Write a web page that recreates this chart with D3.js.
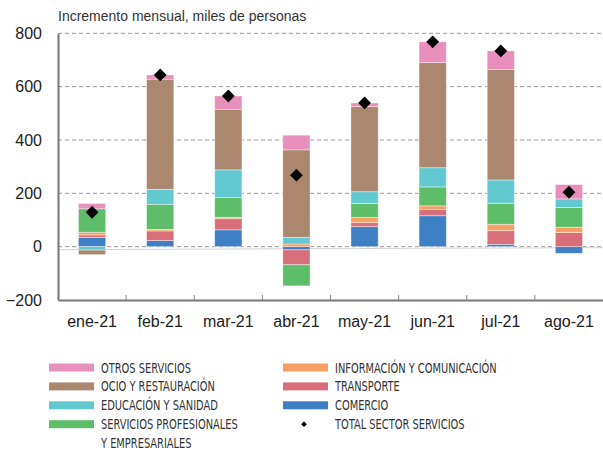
<!DOCTYPE html>
<html>
<head>
<meta charset="utf-8">
<script src="https://cdn.jsdelivr.net/npm/d3@7"></script>
<style>
  body { margin: 0; background: #fff; }
  svg { font-family: "Liberation Sans", Arial, sans-serif; }
  .legend text { font-family: "DejaVu Sans Condensed", "DejaVu Sans", sans-serif; font-stretch: condensed; font-size: 14px; fill: #333; }
</style>
</head>
<body>
<svg id="chart" width="603" height="453"></svg>
<script>
// months
let months = ["ene-21", "feb-21", "mar-21", "abr-21", "may-21", "jun-21", "jul-21", "ago-21"];

// thousands of people, monthly change by sector
let comercio   = [35, 23, 63, -12, 75, 116, 9, -25];
let transporte = [9, 36, 42, -56, 15, 23, 51, 53];
let informacion = [10, 6, 5, 10, 20, 14, 24, 20];
let profesionales = [88, 94, 74, -79, 52, 71, 79, 74];
let educacion  = [-13, 56, 104, 25, 44, 72, 87, 32];
let ocio       = [-17, 413, 227, 328, 319, 394, 414, 0];
let otros      = [20, 16, 50, 55, 14, 78, 70, 54];
let total      = [129, 644, 565, 268, 539, 768, 734, 204];

let yTicks = [-200, 0, 200, 400, 600, 800];

let series = [
    { key: "comercio", name: "COMERCIO", color: "#3f7fc4", values: comercio },
    { key: "transporte", name: "TRANSPORTE", color: "#d96e7b", values: transporte },
    { key: "informacion", name: "INFORMACIÓN Y COMUNICACIÓN", color: "#f6a064", values: informacion },
    { key: "profesionales", name: "SERVICIOS PROFESIONALES", color: "#5dbd68", values: profesionales },
    { key: "educacion", name: "EDUCACIÓN Y SANIDAD", color: "#63c9d1", values: educacion },
    { key: "ocio", name: "OCIO Y RESTAURACIÓN", color: "#ab8770", values: ocio },
    { key: "otros", name: "OTROS SERVICIOS", color: "#e88fbb", values: otros }
];

let svg = d3.select("#chart");

let x = d3.scaleBand()
    .domain(months)
    .range([58, 603])
    .paddingInner(0.6)
    .paddingOuter(0.3);

let xb = d3.scaleBand().domain(months).range([58, 603]);

let y = d3.scaleLinear()
    .domain([-200, 800])
    .range([300, 33.3]);

// rows for stacking, positive and negative parts separately
let rows = months.map(function (m, i) {
    let r = { month: m };
    series.forEach(function (s) { r[s.key] = s.values[i]; });
    return r;
});

let stack = d3.stack()
    .keys(series.map(s => s.key))
    .offset(d3.stackOffsetDiverging);
let stacked = stack(rows);

// gridlines
svg.append("g")
    .selectAll("line")
    .data(yTicks.filter(t => t > -200))
    .enter().append("line")
    .attr("x1", 58)
    .attr("x2", 603)
    .attr("y1", d => y(d))
    .attr("y2", d => y(d))
    .attr("stroke", "#9a9a9a")
    .attr("stroke-dasharray", "4,3")
    .attr("stroke-width", 1);

// faint zero line
svg.append("line")
    .attr("x1", 58).attr("x2", 603)
    .attr("y1", y(0) + 3).attr("y2", y(0) + 1)
    .attr("stroke", "#d4d4d4")
    .attr("stroke-width", 1);

// bars
svg.append("g")
    .selectAll("g")
    .data(stacked)
    .enter().append("g")
    .attr("fill", (d, i) => series[i].color)
    .selectAll("rect")
    .data(d => d)
    .enter().append("rect")
    .attr("x", d => x(d.data.month))
    .attr("width", x.bandwidth())
    .attr("y", d => y(Math.max(d[0], d[1])))
    .attr("height", d => Math.abs(y(d[0]) - y(d[1])))
    .attr("stroke", "rgba(255,255,255,0.5)")
    .attr("stroke-width", 0.8);

// total markers
svg.append("g")
    .selectAll("path")
    .data(total)
    .enter().append("path")
    .attr("d", d3.symbol().type(d3.symbolSquare).size(82))
    .attr("transform", (d, i) => "translate(" + (x(months[i]) + x.bandwidth() / 2) + "," + y(d) + ") rotate(45)")
    .attr("fill", "#000");

// axes
let xAxis = d3.axisBottom(xb).tickSize(0).tickPadding(16);
let gx = svg.append("g")
    .attr("transform", "translate(0," + y(-200) + ")")
    .call(xAxis);
gx.select(".domain").attr("stroke", "#777").attr("stroke-width", 2);
gx.selectAll("text").attr("font-size", 16).attr("fill", "#222");

// inward ticks at category boundaries
svg.append("g")
    .selectAll("line")
    .data(months.slice(1))
    .enter().append("line")
    .attr("x1", d => xb(d)).attr("x2", d => xb(d))
    .attr("y1", y(-200)).attr("y2", y(-200) - 5)
    .attr("stroke", "#888");

let yAxis = d3.axisLeft(y).tickValues(yTicks).tickSize(0).tickPadding(16);
let gy = svg.append("g")
    .attr("transform", "translate(58,0)")
    .call(yAxis);
gy.select(".domain").attr("stroke", "#777").attr("stroke-width", 2);
gy.selectAll("text").attr("font-size", 16).attr("fill", "#222");

// title
svg.append("text")
    .attr("x", 58)
    .attr("y", 21)
    .attr("font-size", 14)
    .attr("fill", "#333")
    .text("Incremento mensual, miles de personas");

// legend
let legendItems = [
    { name: "OTROS SERVICIOS", color: "#e88fbb", col: 0, row: 0 },
    { name: "OCIO Y RESTAURACIÓN", color: "#ab8770", col: 0, row: 1 },
    { name: "EDUCACIÓN Y SANIDAD", color: "#63c9d1", col: 0, row: 2 },
    { name: "SERVICIOS PROFESIONALES", color: "#5dbd68", col: 0, row: 3, extra: "Y EMPRESARIALES" },
    { name: "INFORMACIÓN Y COMUNICACIÓN", color: "#f6a064", col: 1, row: 0 },
    { name: "TRANSPORTE", color: "#d96e7b", col: 1, row: 1 },
    { name: "COMERCIO", color: "#3f7fc4", col: 1, row: 2 },
    { name: "TOTAL SECTOR SERVICIOS", color: null, col: 1, row: 3 }
];

let legend = svg.append("g").attr("class", "legend");
let colX = [49, 283];
let rowY = d => 367.5 + d * 18.9;

// narrow the legend font to the condensed look of the original
let probe = legend.append("text").text("OTROS SERVICIOS");
let squeeze = 90 / probe.node().getComputedTextLength();
probe.remove();

function legendText(tx, ty, str) {
    legend.append("text")
        .attr("transform", "translate(" + tx + "," + ty + ") scale(" + squeeze + ",1)")
        .text(str);
}

legendItems.forEach(function (it) {
    let gx0 = colX[it.col];
    let cy = rowY(it.row);
    if (it.color) {
        legend.append("rect")
            .attr("x", gx0).attr("y", cy - 4)
            .attr("width", 45).attr("height", 8)
            .attr("fill", it.color);
    } else {
        legend.append("path")
            .attr("d", d3.symbol().type(d3.symbolSquare).size(16))
            .attr("transform", "translate(" + (gx0 + 21) + "," + cy + ") rotate(45)")
            .attr("fill", "#000");
    }
    legendText(gx0 + 52, cy + 5, it.name);
    if (it.extra) {
        legendText(gx0 + 52, rowY(it.row + 1) + 5, it.extra);
    }
});
</script>
</body>
</html>
